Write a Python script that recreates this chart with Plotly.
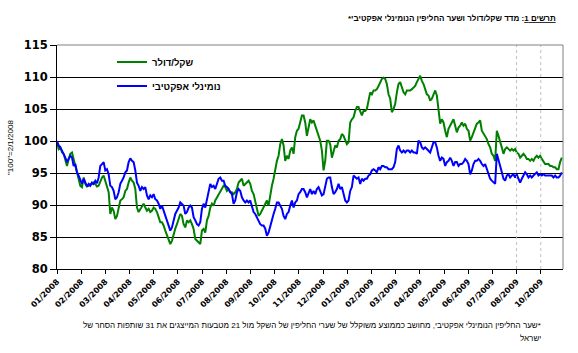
import numpy as np
import plotly.graph_objects as go

# ---------------- data ----------------
tick_labels = ["01/2008", "02/2008", "03/2008", "04/2008", "05/2008", "06/2008",
               "07/2008", "08/2008", "09/2008", "10/2008", "11/2008", "12/2008",
               "01/2009", "02/2009", "03/2009", "04/2009", "05/2009", "06/2009",
               "07/2009", "08/2009", "10/2009"]

shekel_dollar = [
    99.8, 98.75, 99.0, 98.2, 98.0, 96.9, 96.1, 97.2, 98.0, 98.2,
    96.9, 96.1, 95.1, 94.1, 93.0, 92.8, 94.3, 93.3, 92.9, 93.0,
    93.3, 93.3, 93.5, 93.3, 92.9, 93.0, 93.8, 94.3, 94.6, 93.8,
    92.8, 92.0, 88.6, 89.6, 89.1, 87.8, 88.3, 89.6, 90.7, 90.9,
    91.2, 92.2, 92.5, 93.5, 94.3, 93.8, 93.5, 92.5, 89.6, 88.9,
    89.4, 89.9, 90.2, 89.6, 89.1, 89.4, 88.9, 89.1, 89.6, 89.4,
    88.9, 88.1, 87.3, 87.3, 86.8, 86.0, 85.2, 84.4, 83.9, 84.4,
    85.5, 86.3, 87.0, 87.8, 88.6, 88.3, 87.0, 86.5,
    87.6, 87.3, 87.6, 87.0, 86.25, 84.7, 84.4, 84.2, 83.9, 86.0,
    86.25, 85.7, 87.6, 88.3, 89.6, 90.2, 89.9, 90.7, 91.2, 91.7,
    92.0, 92.5, 93.0, 92.8, 92.2, 92.5, 92.0, 92.0, 91.7, 92.0,
    92.5, 93.5, 93.8, 94.1, 93.0, 93.3, 93.5, 93.8, 93.3, 92.2,
    91.7, 90.7, 89.4, 88.3, 88.6, 89.1, 89.6, 90.2, 90.7, 89.9,
    91.7, 93.0, 94.1, 95.9, 96.9, 97.7, 99.5, 100.3, 99.3, 96.9,
    97.7, 97.2, 98.5, 99.0, 98.0, 100.6, 101.6, 101.9, 103.2, 104.0,
    104.0, 102.9, 100.8, 102.1, 103.4,
    102.9, 103.2, 102.4, 101.6, 100.6, 100.05, 98.5, 95.4, 96.9, 100.05,
    100.05, 99.5, 97.4, 98.5, 99.3, 99.0, 100.05, 100.3, 101.1, 100.8,
    100.05, 99.5, 99.8, 102.9, 103.4, 103.7, 104.7, 105.3, 105.3, 104.7,
    104.0, 104.7, 104.7, 105.0, 106.3, 107.6, 107.3, 107.9, 107.9, 108.1,
    108.6, 109.2, 109.7, 109.9, 109.7, 108.9, 107.3, 106.6, 104.5, 105.0,
    105.8, 107.6, 108.9, 109.2, 108.4, 107.6, 107.3, 107.9, 107.9, 107.9,
    108.1, 108.4, 108.6, 109.2, 109.7, 110.2, 109.4, 108.9, 108.1, 107.3,
    107.1, 106.3,
    106.6, 107.3, 107.9, 107.1, 105.0, 102.7, 103.4, 102.9, 101.6, 100.6,
    101.9, 102.4, 102.7, 103.4, 102.4, 101.35, 102.1, 102.4, 102.9, 102.4,
    102.7, 101.9, 101.6, 100.05, 100.6, 101.35, 102.1, 102.7, 102.9, 103.2,
    101.6, 101.1, 100.8, 100.3, 99.5, 99.0, 98.0, 97.7, 96.9, 101.6,
    100.8, 100.05, 99.0, 98.0, 98.75, 99.0, 98.75, 98.5, 98.75, 98.5,
    98.75, 98.2, 98.0, 97.4, 97.7, 98.0, 97.7, 97.2, 97.2, 96.9,
    97.2, 96.9, 97.4, 97.7, 97.4, 97.7, 97.2, 96.7, 96.4, 96.4,
    96.4, 96.1, 96.1, 95.9, 95.9, 95.6, 95.6, 96.7, 97.4,
]

nominal_effective = [
    100.0, 99.3, 99.0, 98.5, 98.1, 97.4, 96.7, 97.2, 97.7, 97.4,
    96.1, 96.4, 95.1, 94.6, 93.8, 93.3, 94.1, 93.5, 92.9, 93.3,
    93.0, 93.5, 93.3, 93.8, 93.4, 94.3, 96.1, 96.4, 96.7, 95.4,
    95.6, 94.8, 93.0, 92.8, 92.2, 90.9, 91.2, 92.0, 93.3, 93.8,
    94.3, 95.1, 95.4, 96.7, 97.3, 96.9, 96.7, 95.4, 93.5, 93.0,
    92.2, 92.8, 92.5, 92.8, 91.5, 90.9, 91.5, 91.2, 91.7, 90.9,
    90.7, 90.2, 89.4, 89.9, 89.1, 88.3, 87.8, 87.0, 86.0, 86.5,
    87.6, 88.6, 89.1, 89.6, 90.4, 90.2, 89.9, 88.6,
    88.9, 89.6, 89.9, 89.6, 88.1, 87.6, 87.0, 86.8, 87.3, 89.4,
    90.2, 89.6, 90.7, 91.7, 93.3, 92.8, 93.0, 92.5, 93.3, 94.1,
    94.3, 93.8, 93.8, 93.0, 92.8, 92.5, 92.0, 91.7, 90.2, 90.7,
    92.0, 92.5, 92.2, 91.2, 90.7, 90.4, 90.7, 90.4, 90.7, 89.9,
    88.9, 88.6, 88.1, 87.6, 87.0, 86.8, 86.8, 86.3, 85.2, 85.7,
    86.8, 87.6, 88.6, 89.4, 90.4, 90.4, 89.9, 89.4, 88.3, 87.8,
    88.6, 88.9, 89.9, 90.7, 89.6, 90.4, 90.7, 91.7, 92.0, 92.5,
    92.5, 92.0, 91.2, 92.0, 92.5,
    91.7, 92.2, 91.7, 92.5, 92.8, 92.0, 91.5, 91.7, 92.8, 94.1,
    94.3, 94.3, 92.8, 91.7, 92.0, 92.5, 93.3, 92.5, 92.8, 91.7,
    90.7, 90.4, 90.7, 92.2, 92.8, 94.6, 94.3, 94.1, 94.3, 93.3,
    94.1, 93.8, 94.1, 94.1, 94.6, 94.8, 95.4, 95.6, 95.4, 95.1,
    95.9, 95.6, 96.1, 96.1, 95.9, 95.9, 95.6, 95.6, 95.6, 95.9,
    96.7, 98.75, 99.3, 98.5, 98.2, 98.5, 98.2, 98.5, 98.5, 98.2,
    98.5, 98.2, 98.2, 98.0, 100.05, 99.8, 99.0, 98.75, 99.0, 98.75,
    98.5, 98.2,
    99.0, 99.8, 99.8, 99.0, 97.7, 96.9, 97.4, 97.2, 96.1, 96.7,
    96.9, 97.4, 96.9, 96.1, 96.7, 96.7, 96.1, 96.4, 96.4, 96.7,
    97.2, 96.9, 96.4, 94.8, 95.4, 96.4, 96.9, 96.9, 97.2, 96.9,
    96.4, 96.1, 96.4, 95.6, 94.6, 94.1, 93.8, 93.5, 93.3, 98.0,
    97.2, 96.1, 95.1, 94.1, 93.8, 94.6, 94.8, 94.3, 94.6, 94.8,
    94.3, 94.8, 94.1, 93.5, 94.1, 94.6, 95.1, 94.8, 94.3, 94.6,
    94.3, 94.6, 94.8, 95.1, 94.6, 94.8, 94.6, 94.8, 94.6, 94.6,
    94.6, 94.6, 94.6, 94.3, 94.6, 94.3, 94.3, 94.6, 95.1,
]

series_names = ["שקל/דולר", "נומינלי אפקטיבי"]
title_text = "מדד שקל/דולר ושער החליפין הנומינלי אפקטיבי*"
title_prefix = "תרשים 1"
y_title = '"100"=2/1/2008'
footnote_1 = ("*שער החליפין הנומינלי אפקטיבי, מחושב כממוצע משוקלל של שערי החליפין "
              "של השקל מול 21 מטבעות המייצגים את 31 שותפות הסחר של")
footnote_2 = "ישראל"
marker_months = [19, 20]

# ---------------- figure ----------------
RLM = "\u200f"
def rtl(s):
    return RLM + s + RLM

n = len(shekel_dollar)
last_month = 20.87            # position of the last observation (months since 01/2008)
x = np.linspace(0, last_month, n)

FONT = "Arial, 'Liberation Sans', sans-serif"
BOLD_WIDE = "'DejaVu Sans', Verdana, sans-serif"

fig = go.Figure()
fig.add_trace(go.Scatter(x=x, y=shekel_dollar, mode="lines", name=rtl(series_names[0]),
                         line=dict(color="#008000", width=2), legend="legend"))
fig.add_trace(go.Scatter(x=x, y=nominal_effective, mode="lines", name=rtl(series_names[1]),
                         line=dict(color="#0000FF", width=2), legend="legend2"))

L, R, T, B = 57, 15, 45, 84
W, H = 578, 353
pw, ph = W - L - R, H - T - B

def px_x(p):
    return (p - L) / pw

def px_y(p):
    return (H - B - p) / ph

legend_font = dict(family=FONT, size=9.5, color="black", weight="bold")
fig.update_layout(
    width=W, height=H,
    margin=dict(l=L, r=R, t=T, b=B, pad=0),
    paper_bgcolor="white", plot_bgcolor="white",
    showlegend=True,
    legend=dict(x=px_x(112), y=px_y(62), xanchor="left", yanchor="middle",
                bgcolor="rgba(0,0,0,0)", borderwidth=0, font=legend_font, itemwidth=30),
    legend2=dict(x=px_x(112), y=px_y(86), xanchor="left", yanchor="middle",
                 bgcolor="rgba(0,0,0,0)", borderwidth=0, font=legend_font, itemwidth=30),
    font=dict(family=FONT, color="black"),
)

fig.update_xaxes(
    range=[0, 20.92], tickmode="array", tickvals=list(range(len(tick_labels))),
    ticktext=tick_labels, tickangle=-45, ticks="outside", ticklen=4, tickcolor="black",
    tickfont=dict(family=BOLD_WIDE, size=8, color="black", weight="bold"),
    showline=True, linecolor="black", linewidth=1, showgrid=False, zeroline=False,
)
fig.update_yaxes(
    range=[80, 115], tickmode="linear", tick0=80, dtick=5,
    ticks="outside", ticklen=6, tickcolor="black",
    tickfont=dict(family=BOLD_WIDE, size=11.5, color="black", weight="bold"),
    showline=True, linecolor="black", linewidth=1,
    showgrid=True, gridcolor="black", gridwidth=1, zeroline=False,
)

shapes = []
# legend background hides the 110 grid line
shapes.append(dict(type="rect", xref="paper", yref="y", x0=0.002, x1=px_x(270), y0=109.3, y1=110.7,
                   fillcolor="white", line=dict(width=0), layer="between"))
for m in marker_months:
    shapes.append(dict(type="line", xref="x", yref="paper", x0=m, x1=m, y0=0, y1=1,
                       line=dict(color="#C0C0C0", width=1, dash="dot"), layer="above"))
# grey top and right frame
shapes.append(dict(type="line", xref="paper", yref="paper", x0=0, x1=1, y0=1, y1=1,
                   line=dict(color="#808080", width=1), layer="above"))
shapes.append(dict(type="line", xref="paper", yref="paper", x0=1, x1=1, y0=0, y1=1,
                   line=dict(color="#808080", width=1), layer="above"))
fig.update_layout(shapes=shapes)

ann = []
ann.append(dict(text="<b>" + RLM + "<u>" + title_prefix + "</u>: " + title_text + RLM + "</b>",
                xref="paper", yref="paper", x=px_x(558), y=px_y(18),
                xanchor="right", yanchor="middle", showarrow=False,
                font=dict(family=FONT, size=8, color="black")))
ann.append(dict(text=y_title, xref="paper", yref="paper", x=px_x(10), y=px_y(148),
                xanchor="center", yanchor="middle", textangle=-90, showarrow=False,
                font=dict(family=FONT, size=8, color="black")))
ann.append(dict(text=rtl(footnote_1), xref="paper", yref="paper", x=px_x(543), y=px_y(325),
                xanchor="right", yanchor="middle", showarrow=False,
                font=dict(family=FONT, size=8, color="black")))
ann.append(dict(text=rtl(footnote_2), xref="paper", yref="paper", x=px_x(543), y=px_y(338),
                xanchor="right", yanchor="middle", showarrow=False,
                font=dict(family=FONT, size=8, color="black")))
fig.update_layout(annotations=ann)

fig.write_html("out.html")
